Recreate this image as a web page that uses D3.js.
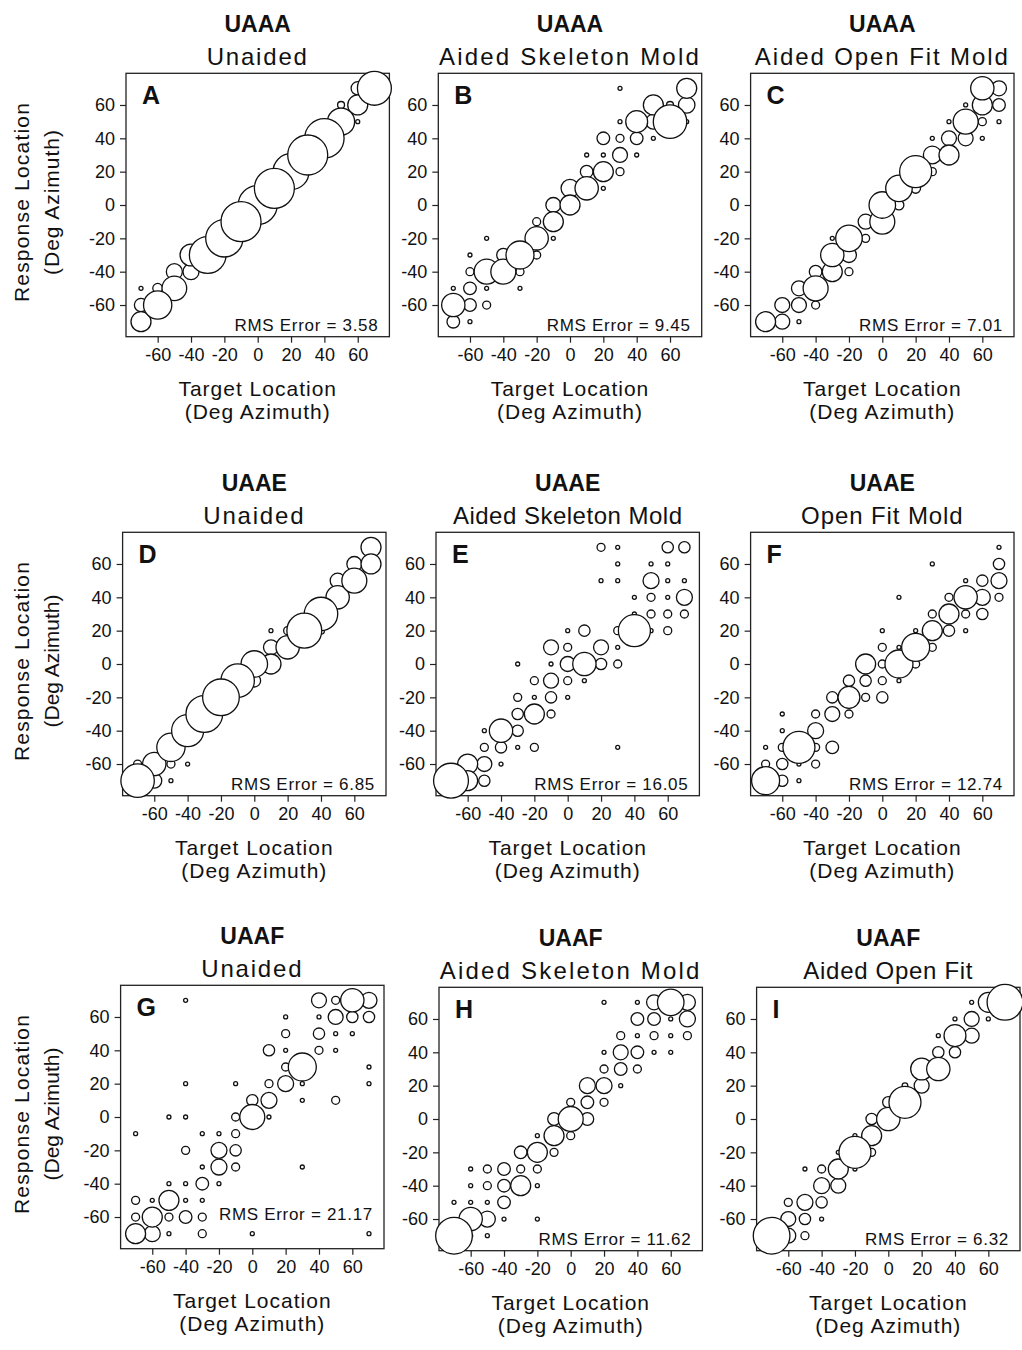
<!DOCTYPE html>
<html lang="en">

<head>
    <meta charset="utf-8">
    <script src='https://d3js.org/d3.v7.min.js'></script>
</head>

<body style="margin:0;background:#fff">

    <style>
        svg text {
            font-family: "Liberation Sans", Arial, sans-serif;
            fill: #111;
        }
        .tick text { font-size: 18px; }
        .tick line { stroke: #222; stroke-width: 1.2px; }
    </style>
    <script>

        // panel labels and titles
        var panelLetters = ["A", "B", "C", "D", "E", "F", "G", "H", "I"];
        var groupNames = ["UAAA", "UAAA", "UAAA", "UAAE", "UAAE", "UAAE", "UAAF", "UAAF", "UAAF"];
        var conditionNames = ["Unaided", "Aided Skeleton Mold", "Aided Open Fit Mold",
            "Unaided", "Aided Skeleton Mold", "Open Fit Mold",
            "Unaided", "Aided Skeleton Mold", "Aided Open Fit"];
        var rmsErrors = ["3.58", "9.45", "7.01", "6.85", "16.05", "12.74", "21.17", "11.62", "6.32"];
        var axisTicks = [-60, -40, -20, 0, 20, 40, 60];

        // [target, response, count]
        var bubblesA = [
            [-70, -50, 1], [-70, -60, 11], [-70, -70, 25],
            [-60, -50, 6], [-60, -60, 50],
            [-50, -40, 16], [-50, -50, 38],
            [-40, -30, 30], [-40, -40, 16],
            [-30, -30, 84],
            [-20, -20, 87],
            [-10, -10, 100],
            [0, 0, 95],
            [10, 10, 100],
            [20, 20, 81],
            [30, 30, 100],
            [40, 40, 97],
            [50, 60, 3], [50, 50, 46], [50, 40, 1],
            [60, 70, 11], [60, 60, 25], [60, 50, 1],
            [70, 70, 72]
        ];
        var bubblesB = [
            [-70, -50, 1], [-70, -60, 34], [-70, -70, 10],
            [-60, -30, 1], [-60, -40, 4], [-60, -50, 10], [-60, -60, 10], [-60, -70, 1],
            [-50, -20, 1], [-50, -40, 39], [-50, -50, 1], [-50, -60, 4],
            [-40, -30, 11], [-40, -40, 39],
            [-30, -30, 49], [-30, -40, 4], [-30, -50, 1],
            [-20, -10, 4], [-20, -20, 34], [-20, -30, 4],
            [-10, 0, 14], [-10, -10, 25], [-10, -20, 1],
            [0, 10, 20], [0, 0, 25],
            [10, 30, 1], [10, 20, 10], [10, 10, 34],
            [20, 40, 10], [20, 30, 1], [20, 20, 25], [20, 10, 1],
            [30, 70, 1], [30, 50, 1], [30, 40, 4], [30, 30, 14], [30, 20, 4],
            [40, 50, 30], [40, 40, 10], [40, 30, 1],
            [50, 60, 25], [50, 50, 14], [50, 40, 1],
            [60, 60, 3], [60, 50, 70],
            [70, 70, 25], [70, 60, 17], [70, 50, 1]
        ];
        var bubblesC = [
            [-70, -70, 25],
            [-60, -60, 14], [-60, -70, 14],
            [-50, -50, 14], [-50, -60, 14], [-50, -70, 1],
            [-40, -40, 10], [-40, -50, 39], [-40, -60, 4],
            [-30, -20, 1], [-30, -30, 34], [-30, -40, 25],
            [-20, -20, 44], [-20, -30, 14], [-20, -40, 4],
            [-10, -10, 14], [-10, -20, 4],
            [0, 0, 44], [0, -10, 39],
            [10, 10, 44], [10, 0, 6],
            [20, 20, 64], [20, 10, 6],
            [30, 40, 1], [30, 30, 20], [30, 20, 4],
            [40, 50, 1], [40, 40, 14], [40, 30, 25],
            [50, 60, 1], [50, 50, 39], [50, 40, 14],
            [60, 70, 34], [60, 60, 25], [60, 50, 4], [60, 40, 1],
            [70, 70, 14], [70, 60, 10], [70, 50, 1]
        ];
        var bubblesD = [
            [-70, -60, 4], [-70, -70, 70],
            [-60, -60, 34], [-60, -70, 14],
            [-50, -50, 50], [-50, -60, 4], [-50, -70, 1],
            [-40, -40, 64], [-40, -60, 1],
            [-30, -30, 84],
            [-20, -20, 84],
            [-10, -10, 70],
            [0, 0, 44], [0, -10, 10],
            [10, 20, 1], [10, 10, 14], [10, 0, 25],
            [20, 20, 4], [20, 10, 34],
            [30, 20, 76],
            [40, 30, 70], [40, 20, 3],
            [50, 50, 14], [50, 40, 34],
            [60, 60, 14], [60, 50, 39],
            [70, 70, 25], [70, 60, 25]
        ];
        var bubblesE = [
            [-70, -70, 76],
            [-60, -60, 25], [-60, -70, 25],
            [-50, -40, 1], [-50, -50, 4], [-50, -60, 14], [-50, -70, 8],
            [-40, -40, 34], [-40, -50, 8], [-40, -60, 1],
            [-30, 0, 1], [-30, -20, 4], [-30, -30, 8], [-30, -40, 8], [-30, -50, 1],
            [-20, -10, 4], [-20, -20, 1], [-20, -30, 25], [-20, -50, 4],
            [-10, 10, 14], [-10, 0, 1], [-10, -10, 14], [-10, -20, 8], [-10, -30, 4],
            [0, 20, 1], [0, 10, 4], [0, 0, 14], [0, -10, 4], [0, -20, 1],
            [10, 20, 8], [10, 0, 34], [10, -10, 1],
            [20, 70, 4], [20, 50, 1], [20, 10, 14], [20, 0, 8],
            [30, 70, 1], [30, 60, 1], [30, 50, 1], [30, 20, 4], [30, 10, 1], [30, 0, 4], [30, -50, 1],
            [40, 40, 1], [40, 30, 1], [40, 20, 64],
            [50, 60, 1], [50, 50, 16], [50, 40, 4], [50, 30, 4], [50, 20, 1],
            [60, 70, 8], [60, 60, 1], [60, 50, 1], [60, 40, 1], [60, 30, 4], [60, 20, 4],
            [70, 70, 8], [70, 50, 1], [70, 40, 16], [70, 30, 4]
        ];
        var bubblesF = [
            [-70, -50, 1], [-70, -60, 4], [-70, -70, 49],
            [-60, -30, 1], [-60, -40, 1], [-60, -50, 4], [-60, -60, 8], [-60, -70, 8],
            [-50, -50, 64], [-50, -60, 1], [-50, -70, 1],
            [-40, -30, 4], [-40, -40, 16], [-40, -50, 4], [-40, -60, 4],
            [-30, -20, 8], [-30, -30, 14], [-30, -50, 10],
            [-20, -10, 8], [-20, -20, 30], [-20, -30, 4],
            [-10, 0, 25], [-10, -10, 8], [-10, -20, 4],
            [0, 20, 1], [0, 10, 4], [0, 0, 4], [0, -10, 4], [0, -20, 8],
            [10, 40, 1], [10, 10, 1], [10, 0, 49], [10, -10, 1],
            [20, 20, 1], [20, 10, 49], [20, 0, 4],
            [30, 60, 1], [30, 30, 4], [30, 20, 25], [30, 10, 4],
            [40, 40, 4], [40, 30, 25], [40, 20, 8],
            [50, 50, 1], [50, 40, 34], [50, 30, 4], [50, 20, 1],
            [60, 50, 8], [60, 40, 16], [60, 30, 8],
            [70, 70, 1], [70, 60, 8], [70, 50, 16], [70, 40, 4]
        ];
        var bubblesG = [
            [-70, -10, 1], [-70, -50, 4], [-70, -60, 4], [-70, -70, 25],
            [-60, -50, 1], [-60, -60, 25], [-60, -70, 16],
            [-50, 0, 1], [-50, -40, 1], [-50, -50, 25], [-50, -60, 4], [-50, -70, 1],
            [-40, 70, 1], [-40, 20, 1], [-40, 0, 1], [-40, -20, 4], [-40, -40, 1], [-40, -50, 1], [-40, -60, 10],
            [-30, -10, 1], [-30, -30, 1], [-30, -40, 10], [-30, -50, 1], [-30, -60, 4], [-30, -70, 4],
            [-20, -10, 1], [-20, -20, 16], [-20, -30, 16], [-20, -40, 1],
            [-10, 20, 1], [-10, 0, 4], [-10, -10, 4], [-10, -20, 8], [-10, -30, 4],
            [0, 10, 8], [0, 0, 39], [0, -70, 1],
            [10, 40, 8], [10, 20, 4], [10, 10, 16], [10, 0, 1],
            [20, 60, 1], [20, 50, 4], [20, 40, 1], [20, 30, 4], [20, 20, 16],
            [30, 30, 49], [30, 20, 1], [30, 10, 1], [30, -30, 1],
            [40, 70, 14], [40, 60, 1], [40, 50, 8], [40, 40, 4],
            [50, 70, 4], [50, 60, 14], [50, 50, 1], [50, 40, 1], [50, 10, 4],
            [60, 70, 34], [60, 60, 8], [60, 50, 1],
            [70, 70, 16], [70, 60, 8], [70, 30, 1], [70, 20, 1], [70, -70, 1]
        ];
        var bubblesH = [
            [-70, -50, 1], [-70, -70, 84],
            [-60, -30, 1], [-60, -40, 1], [-60, -50, 1], [-60, -60, 34], [-60, -70, 1],
            [-50, -30, 4], [-50, -40, 4], [-50, -50, 1], [-50, -60, 16], [-50, -70, 1],
            [-40, -30, 10], [-40, -40, 10], [-40, -50, 10], [-40, -60, 1],
            [-30, -20, 10], [-30, -30, 4], [-30, -40, 25],
            [-20, -10, 1], [-20, -20, 25], [-20, -30, 4], [-20, -40, 1], [-20, -60, 1],
            [-10, 0, 10], [-10, -10, 25], [-10, -20, 4],
            [0, 10, 4], [0, 0, 39], [0, -10, 4],
            [10, 20, 16], [10, 10, 10], [10, 0, 10],
            [20, 70, 1], [20, 40, 1], [20, 30, 4], [20, 20, 16], [20, 10, 4],
            [30, 50, 4], [30, 40, 14], [30, 30, 10], [30, 20, 1],
            [40, 70, 1], [40, 60, 10], [40, 50, 1], [40, 40, 10], [40, 30, 4],
            [50, 70, 14], [50, 60, 10], [50, 50, 4], [50, 40, 1],
            [60, 70, 44], [60, 60, 1], [60, 50, 1], [60, 40, 1],
            [70, 70, 16], [70, 60, 16], [70, 50, 4]
        ];
        var bubblesI = [
            [-70, -70, 84],
            [-60, -50, 4], [-60, -60, 14], [-60, -70, 14],
            [-50, -30, 1], [-50, -50, 16], [-50, -60, 8], [-50, -70, 4],
            [-40, -30, 4], [-40, -40, 16], [-40, -50, 8], [-40, -60, 1],
            [-30, -20, 1], [-30, -30, 25], [-30, -40, 14],
            [-20, -10, 1], [-20, -20, 64], [-20, -30, 1],
            [-10, 0, 8], [-10, -10, 25], [-10, -20, 4],
            [0, 10, 8], [0, 0, 34],
            [10, 20, 2], [10, 10, 64],
            [20, 30, 30], [20, 20, 14],
            [30, 50, 1], [30, 40, 8], [30, 30, 34],
            [40, 60, 1], [40, 50, 30], [40, 40, 8],
            [50, 70, 1], [50, 60, 14], [50, 50, 14],
            [60, 70, 25], [60, 60, 1],
            [70, 70, 80]
        ];
        var allBubbles = [bubblesA, bubblesB, bubblesC, bubblesD, bubblesE, bubblesF, bubblesG, bubblesH, bubblesI];

        // layout (pixel position of the 0,0 point of each panel)
        var zeroX = [257.7, 570, 882.3, 254.3, 567.7, 882.3, 252.3, 570.7, 888.3];
        var zeroY = [205, 205, 205, 664, 664, 664, 1117, 1119, 1119];
        var subSpacing = [1.8, 2.2, 1.9, 1.8, 0.5, 0.9, 1.8, 2.2, 0.7];
        var half = 131.7;

        var svg = d3.select("body")
            .append("svg")
            .attr("width", 1022)
            .attr("height", 1350);

        svg.append("rect").attr("width", 1022).attr("height", 1350).attr("fill", "#fff");

        var r = d3.scaleSqrt().domain([0, 100]).range([0, 20]);
        var plain = function(d) { return String(d); };   // plain hyphen, like the original

        panelLetters.forEach(function(letter, i) {
            var cx = zeroX[i], cy = zeroY[i];
            var x = d3.scaleLinear().domain([-79, 79]).range([cx - half, cx + half]);
            var y = d3.scaleLinear().domain([-79, 79]).range([cy + half, cy - half]);
            var g = svg.append("g");
            var top = cy - half, bottom = cy + half, left = cx - half, right = cx + half;

            // frame
            g.append("rect")
                .attr("x", left).attr("y", top)
                .attr("width", 2 * half).attr("height", 2 * half)
                .attr("fill", "none").attr("stroke", "#222").attr("stroke-width", 1.3);

            // axes
            var xa = g.append("g").attr("transform", "translate(0," + bottom + ")")
                .call(d3.axisBottom(x).tickValues(axisTicks).tickFormat(plain).tickSize(6).tickPadding(6));
            var ya = g.append("g").attr("transform", "translate(" + left + ",0)")
                .call(d3.axisLeft(y).tickValues(axisTicks).tickFormat(plain).tickSize(6).tickPadding(5));
            xa.select(".domain").remove();
            ya.select(".domain").remove();
            g.selectAll(".tick text").attr("fill", "#111").style("font-family", "'Liberation Sans', Arial, sans-serif");

            // bubbles: small first so big ones sit on top
            var pts = allBubbles[i].slice().sort(function(a, b) { return a[2] - b[2]; });
            g.selectAll("circle")
                .data(pts)
                .enter()
                .append("circle")
                .attr("cx", function(d) { return x(d[0]); })
                .attr("cy", function(d) { return y(d[1]); })
                .attr("r", function(d) { return r(d[2]); })
                .attr("fill", "#fff")
                .attr("stroke", "#111")
                .attr("stroke-width", 1.3);

            // panel letter
            g.append("text")
                .attr("x", left + 16).attr("y", top + 31)
                .style("font-size", "25px").style("font-weight", "bold")
                .text(letter);

            // rms error
            g.append("text")
                .attr("x", right - 11)
                .attr("y", i == 6 ? bottom - 29 : bottom - 6)
                .attr("text-anchor", "end")
                .style("font-size", "17px").style("letter-spacing", "0.7px")
                .text("RMS Error = " + rmsErrors[i]);

            // titles
            g.append("text")
                .attr("x", cx).attr("y", top - 41)
                .attr("text-anchor", "middle")
                .style("font-size", "23px").style("font-weight", "bold")
                .text(groupNames[i]);
            g.append("text")
                .attr("x", cx).attr("y", top - 8)
                .attr("text-anchor", "middle")
                .style("font-size", "24px").style("letter-spacing", subSpacing[i] + "px")
                .text(conditionNames[i]);

            // x title
            g.append("text")
                .attr("x", cx).attr("y", bottom + 59)
                .attr("text-anchor", "middle")
                .style("font-size", "21px").style("letter-spacing", "1px")
                .text("Target Location");
            g.append("text")
                .attr("x", cx).attr("y", bottom + 82)
                .attr("text-anchor", "middle")
                .style("font-size", "21px").style("letter-spacing", "1px")
                .text("(Deg Azimuth)");

            // y title, first column only
            if (i % 3 == 0) {
                g.append("text")
                    .attr("transform", "translate(29," + (cy - 3) + ") rotate(-90)")
                    .attr("text-anchor", "middle")
                    .style("font-size", "21px").style("letter-spacing", "1.2px")
                    .text("Response Location");
                g.append("text")
                    .attr("transform", "translate(59," + (cy - 3) + ") rotate(-90)")
                    .attr("text-anchor", "middle")
                    .style("font-size", "21px").style("letter-spacing", i == 0 ? "1px" : "0px")
                    .text("(Deg Azimuth)");
            }
        });

    </script>

</body>

</html>
